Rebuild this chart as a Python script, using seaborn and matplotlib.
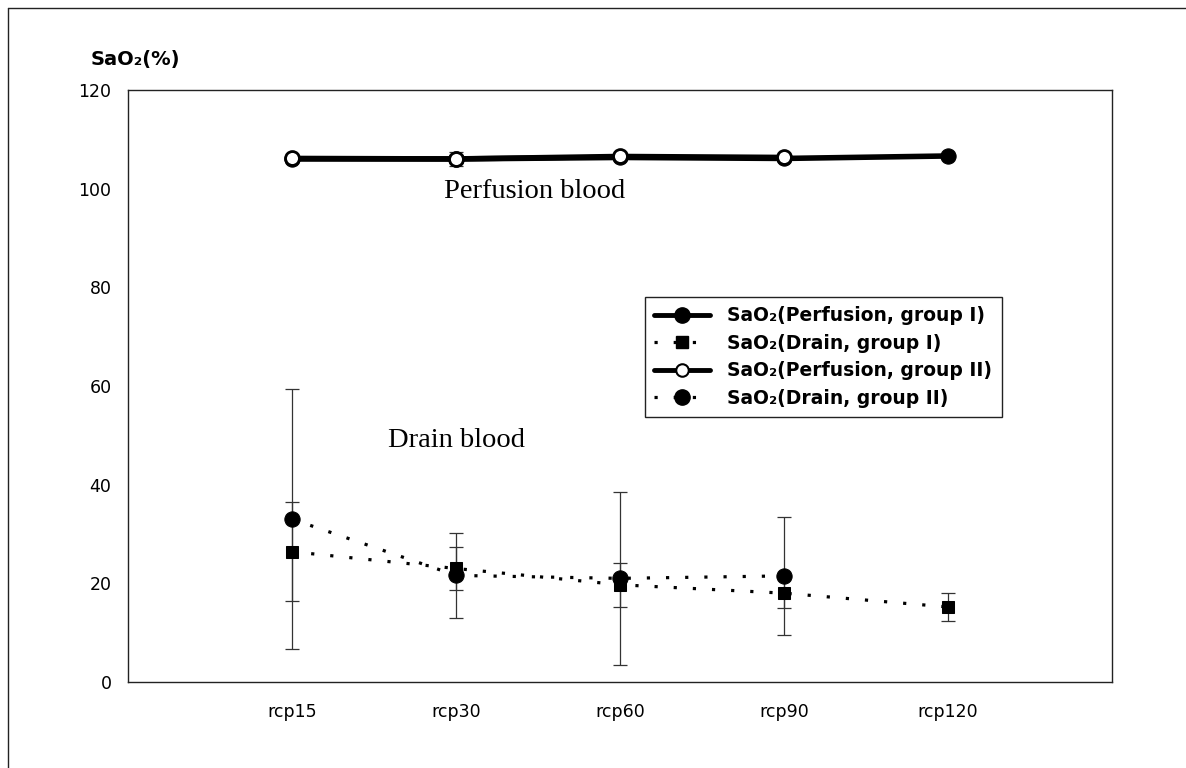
import numpy as np
import pandas as pd
import matplotlib
matplotlib.use("Agg")
import matplotlib.pyplot as plt
import seaborn as sns
from matplotlib.lines import Line2D

sns.set_theme(style="white")
plt.rcParams['font.family'] = ['DejaVu Sans']
plt.rcParams['text.color'] = 'black'

# data
times = ['rcp15', 'rcp30', 'rcp60', 'rcp90', 'rcp120']
perf_g1 = [106.0, 106.0, 106.3, 106.1, 106.6]
perf_g1_sd = [0.5, 0.8, 0.5, 0.5, 0.5]
drain_g1 = [26.4, 23.0, 19.7, 18.0, 15.2]
drain_g1_sd = [10.0, 4.4, 4.5, 3.0, 2.9]
perf_g2 = [106.1, 106.0, 106.5, 106.3]
perf_g2_sd = [0.5, 1.5, 0.5, 0.5]
drain_g2 = [33.0, 21.6, 21.0, 21.5]
drain_g2_sd = [26.3, 8.6, 17.5, 12.0]

pos = np.arange(1, len(times) + 1)

df = pd.concat([
    pd.DataFrame({'x': pos, 'y': perf_g1, 'sd': perf_g1_sd, 'series': 'perf_g1'}),
    pd.DataFrame({'x': pos, 'y': drain_g1, 'sd': drain_g1_sd, 'series': 'drain_g1'}),
    pd.DataFrame({'x': pos[:4], 'y': perf_g2, 'sd': perf_g2_sd, 'series': 'perf_g2'}),
    pd.DataFrame({'x': pos[:4], 'y': drain_g2, 'sd': drain_g2_sd, 'series': 'drain_g2'}),
])

fig = plt.figure(figsize=(11.86, 7.68), dpi=100)
ax = fig.add_axes([0.108, 0.112, 0.8296, 0.771])

dot = (0, (1, 5))

# error bars first (thin)
for s in ['drain_g2', 'drain_g1', 'perf_g1', 'perf_g2']:
    d = df[df.series == s]
    ax.errorbar(d.x, d.y, yerr=d.sd, fmt='none', ecolor='#333333',
                elinewidth=0.9, capsize=5, capthick=0.9, zorder=2)

d = df[df.series == 'perf_g1']
sns.lineplot(x=d.x, y=d.y, ax=ax, color='black', lw=4, marker='o', markersize=11,
             markeredgecolor='black', zorder=4)
d = df[df.series == 'perf_g2']
sns.lineplot(x=d.x, y=d.y, ax=ax, color='black', lw=4, marker='o', markersize=10,
             markerfacecolor='white', markeredgecolor='black', markeredgewidth=2, zorder=5)
d = df[df.series == 'drain_g1']
sns.lineplot(x=d.x, y=d.y, ax=ax, color='black', lw=2.3, linestyle=dot, marker='s',
             markersize=8, markeredgecolor='black', zorder=4)
d = df[df.series == 'drain_g2']
sns.lineplot(x=d.x, y=d.y, ax=ax, color='black', lw=2.3, linestyle=dot, marker='o',
             markersize=11, markeredgecolor='black', zorder=4)

ax.set_xlim(0, 6)
ax.set_ylim(0, 120)
ax.set_yticks(np.arange(0, 121, 20))
ax.set_xticks(pos)
ax.set_xticklabels(times)
ax.set_xlabel('')
ax.set_ylabel('')
ax.tick_params(axis='both', direction='out', length=4, width=0.8, color='black',
               labelsize=12.5, labelcolor='black', pad=8)
ax.tick_params(axis='x', pad=11)
for sp in ax.spines.values():
    sp.set_color('#222222')
    sp.set_linewidth(1)

ax.text(2.48, 99.5, 'Perfusion blood', family='Liberation Serif', fontsize=20.5,
        ha='center', va='center', color='black')
ax.text(2.0, 49, 'Drain blood', family='Liberation Serif', fontsize=20.5,
        ha='center', va='center', color='black')

fig.text(0.076, 0.922, 'SaO₂(%)', fontsize=14, fontweight='bold', ha='left', va='center',
         color='black')

handles = [
    Line2D([], [], color='black', lw=3.5, marker='o', markersize=11),
    Line2D([], [], color='black', lw=2.3, linestyle=dot, marker='s', markersize=8),
    Line2D([], [], color='black', lw=3.5, marker='o', markersize=9,
           markerfacecolor='white', markeredgewidth=1.5),
    Line2D([], [], color='black', lw=2.3, linestyle=dot, marker='o', markersize=11),
]
labels = ['SaO₂(Perfusion, group I)', 'SaO₂(Drain, group I)',
          'SaO₂(Perfusion, group II)', 'SaO₂(Drain, group II)']
leg = ax.legend(handles, labels, loc='upper left', bbox_to_anchor=(0.525, 0.650),
                frameon=True, fancybox=False, framealpha=1, edgecolor='#222222',
                prop={'size': 13.5, 'weight': 'bold'}, handlelength=3.0,
                borderpad=0.5, labelspacing=0.45, handletextpad=0.9, borderaxespad=0)
leg.get_frame().set_linewidth(1)
for t in leg.get_texts():
    t.set_color('black')

# outer frame of the scanned page
fig.add_artist(Line2D([0.007, 1.0], [0.99, 0.99], color='#222222', lw=1))
fig.add_artist(Line2D([0.007, 0.007], [0.0, 0.99], color='#222222', lw=1))

fig.savefig('out.png', dpi=100, facecolor='white')
